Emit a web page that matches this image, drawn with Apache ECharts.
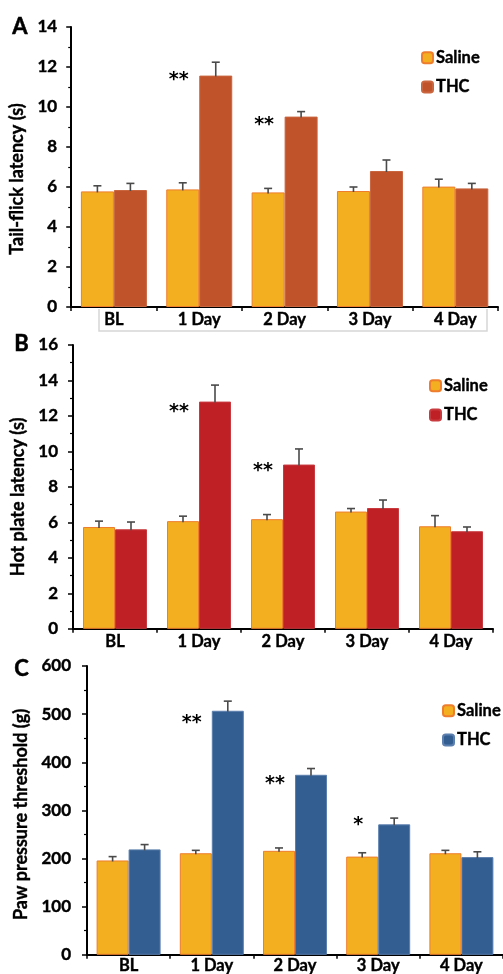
<!DOCTYPE html>
<html><head><meta charset="utf-8">
<script src="https://cdn.jsdelivr.net/npm/echarts@6/dist/echarts.min.js"></script>
<style>
html,body{margin:0;padding:0;background:#fff;width:503px;height:974px;overflow:hidden;position:relative}
.p{position:absolute;left:0;width:503px}
</style></head><body>
<div id="a" class="p" style="top:0;height:335px"></div>
<div id="b" class="p" style="top:320px;height:330px"></div>
<div id="c" class="p" style="top:650px;height:324px"></div>
<script>
const categories = ['BL', '1 Day', '2 Day', '3 Day', '4 Day'];
const seriesNames = ['Saline', 'THC'];

// Panel A: tail-flick latency (s)
const salineA = [5.78, 5.88, 5.73, 5.80, 6.02];
const salineAErr = [0.28, 0.33, 0.20, 0.20, 0.37];
const thcA = [5.85, 11.57, 9.52, 6.80, 5.93];
const thcAErr = [0.33, 0.67, 0.25, 0.55, 0.25];
const sigA = ['', '**', '**', '', ''];
const sigAY = [null, 11.35, 9.1, null, null];
const yTicksA = [0, 2, 4, 6, 8, 10, 12, 14];

// Panel B: hot plate latency (s)
const salineB = [5.74, 6.07, 6.18, 6.61, 5.78];
const salineBErr = [0.33, 0.28, 0.26, 0.17, 0.60];
const thcB = [5.61, 12.81, 9.26, 6.81, 5.50];
const thcBErr = [0.41, 0.93, 0.88, 0.45, 0.24];
const sigB = ['', '**', '**', '', ''];
const sigBY = [null, 12.2, 8.9, null, null];
const yTicksB = [0, 2, 4, 6, 8, 10, 12, 14, 16];

// Panel C: paw pressure threshold (g)
const salineC = [196, 211, 216, 204, 211];
const salineCErr = [8, 6, 6, 8, 6];
const thcC = [219, 507, 374, 271, 203];
const thcCErr = [10, 20, 13, 13, 11];
const sigC = ['', '**', '**', '*', ''];
const sigCY = [null, 481, 355, 269, null];
const yTicksC = [0, 100, 200, 300, 400, 500, 600];

const FONT = 'Lato, "Open Sans", "Liberation Sans", sans-serif';
const HEAVY = {textBorderColor: '#000', textBorderWidth: 0.4};

function panel(id, cfg) {
  const chart = echarts.init(document.getElementById(id), null, {renderer: 'canvas'});
  const bw = cfg.barWidth;
  const ticks = cfg.ticks;
  function errSeries(vals, errs, off) {
    return {
      type: 'custom', z: 5, silent: true,
      data: categories.map((c, i) => [i, vals[i], errs[i]]),
      renderItem(params, api) {
        const i = api.value(0), v = api.value(1), e = api.value(2);
        const b = api.coord([i, v]), t = api.coord([i, v + e]);
        const x = b[0] + off;
        const st = {stroke: '#4a4a4a', lineWidth: 1.6};
        return {type: 'group', children: [
          {type: 'line', shape: {x1: x, y1: b[1] + 1, x2: x, y2: t[1]}, style: st},
          {type: 'line', shape: {x1: x - 4, y1: t[1], x2: x + 4, y2: t[1]}, style: st}
        ]};
      }
    };
  }
  const sigSeries = {
    type: 'custom', z: 6, silent: true,
    data: categories.map((c, i) => [i, cfg.sigY[i] == null ? 0 : cfg.sigY[i], cfg.sig[i]]),
    renderItem(params, api) {
      const i = api.value(0);
      const txt = cfg.sig[i];
      if (!txt) return null;
      const p = api.coord([i, cfg.sigY[i]]);
      return {type: 'text', style: {
        text: txt, x: p[0] - bw / 2 - 4, y: p[1],
        align: 'center', verticalAlign: 'middle', textAlign: 'center', textVerticalAlign: 'middle',
        fill: '#000', font: 'bold 19px "DejaVu Sans", sans-serif'
      }};
    }
  };
  const graphic = [{
    type: 'text', left: cfg.letterX, top: cfg.letterY,
    style: {text: cfg.letter, fill: '#000', font: 'bold 22px ' + FONT, stroke: '#000', lineWidth: 0.5}
  }].concat(cfg.extraGraphic || []);
  chart.setOption({
    animation: false,
    textStyle: {fontFamily: FONT},
    graphic: graphic,
    legend: {
      orient: 'vertical', left: cfg.legendX, top: cfg.legendY,
      itemWidth: 11, itemHeight: 11, itemGap: 12,
      data: seriesNames,
      textStyle: Object.assign({fontFamily: FONT, fontWeight: 'bold', fontSize: 16.5, color: '#000', padding: [0, 0, 0, -2]}, HEAVY)
    },
    grid: {left: cfg.gridLeft, top: cfg.gridTop, width: cfg.gridWidth, height: cfg.gridHeight, containLabel: false},
    xAxis: {
      type: 'category', data: categories,
      axisLine: {lineStyle: {color: '#000', width: 2}},
      axisTick: {show: true, length: 4, lineStyle: {color: '#000', width: 1.5}},
      axisLabel: Object.assign({color: '#000', fontWeight: 'bold', fontSize: 16.5, fontFamily: FONT, margin: cfg.xLabelMargin}, HEAVY)
    },
    yAxis: {
      type: 'value', min: ticks[0], max: ticks[ticks.length - 1], interval: ticks[1] - ticks[0],
      name: cfg.yName, nameLocation: 'middle', nameGap: cfg.nameGap,
      nameTextStyle: Object.assign({color: '#000', fontWeight: 'bold', fontSize: 18, fontFamily: FONT, padding: [0, cfg.nameShift, 0, 0]}, HEAVY),
      axisLine: {show: true, lineStyle: {color: '#000', width: 2}},
      axisTick: {show: true, length: 5, lineStyle: {color: '#000', width: 1.5}},
      minorTick: {show: true, splitNumber: 2, length: 3, lineStyle: {color: '#000', width: 1.2}},
      splitLine: {show: false},
      axisLabel: Object.assign({color: '#000', fontWeight: 'bold', fontSize: 17, fontFamily: FONT, margin: cfg.yLabelMargin}, HEAVY)
    },
    series: [
      {name: 'Saline', type: 'bar', data: cfg.saline, barWidth: bw, barGap: '0%',
       itemStyle: {color: '#F3AF20', borderColor: '#EE7E2E', borderWidth: 1}},
      {name: 'THC', type: 'bar', data: cfg.thc, barWidth: bw, barGap: '0%',
       itemStyle: {color: cfg.thcColor, borderColor: cfg.thcBorder, borderWidth: 1}},
      errSeries(cfg.saline, cfg.salineErr, -bw / 2),
      errSeries(cfg.thc, cfg.thcErr, bw / 2),
      sigSeries
    ]
  });
}

panel('a', {
  letter: 'A', letterX: 12, letterY: 16,
  saline: salineA, salineErr: salineAErr, thc: thcA, thcErr: thcAErr,
  sig: sigA, sigY: sigAY, ticks: yTicksA,
  thcColor: '#C1532A', thcBorder: '#C9653F',
  gridLeft: 69, gridTop: 27, gridWidth: 429, gridHeight: 280, barWidth: 33,
  yName: 'Tail-flick latency (s)', nameGap: 39, nameShift: 24, yLabelMargin: 14, xLabelMargin: 4,
  legendX: 416, legendY: 44,
  extraGraphic: [{
    type: 'polyline', silent: true,
    shape: {points: [[99, 309], [99, 331], [487, 331], [487, 309]]},
    style: {stroke: '#d6d6d6', lineWidth: 1.5, fill: null}
  }]
});

panel('b', {
  letter: 'B', letterX: 14, letterY: 13,
  saline: salineB, salineErr: salineBErr, thc: thcB, thcErr: thcBErr,
  sig: sigB, sigY: sigBY, ticks: yTicksB,
  thcColor: '#BE2026', thcBorder: '#C83A3E',
  gridLeft: 73, gridTop: 25, gridWidth: 420, gridHeight: 288, barWidth: 32,
  yName: 'Hot plate latency (s)', nameGap: 42, nameShift: 20, yLabelMargin: 15, xLabelMargin: 4,
  legendX: 424, legendY: 52
});

panel('c', {
  letter: 'C', letterX: 14, letterY: 8,
  saline: salineC, salineErr: salineCErr, thc: thcC, thcErr: thcCErr,
  sig: sigC, sigY: sigCY, ticks: yTicksC,
  thcColor: '#335E91', thcBorder: '#5B7FAE',
  gridLeft: 87, gridTop: 16, gridWidth: 417, gridHeight: 290, barWidth: 32,
  yName: 'Paw pressure threshold (g)', nameGap: 54, nameShift: 8, yLabelMargin: 16, xLabelMargin: 2,
  legendX: 437, legendY: 47
});
</script>
</body></html>
